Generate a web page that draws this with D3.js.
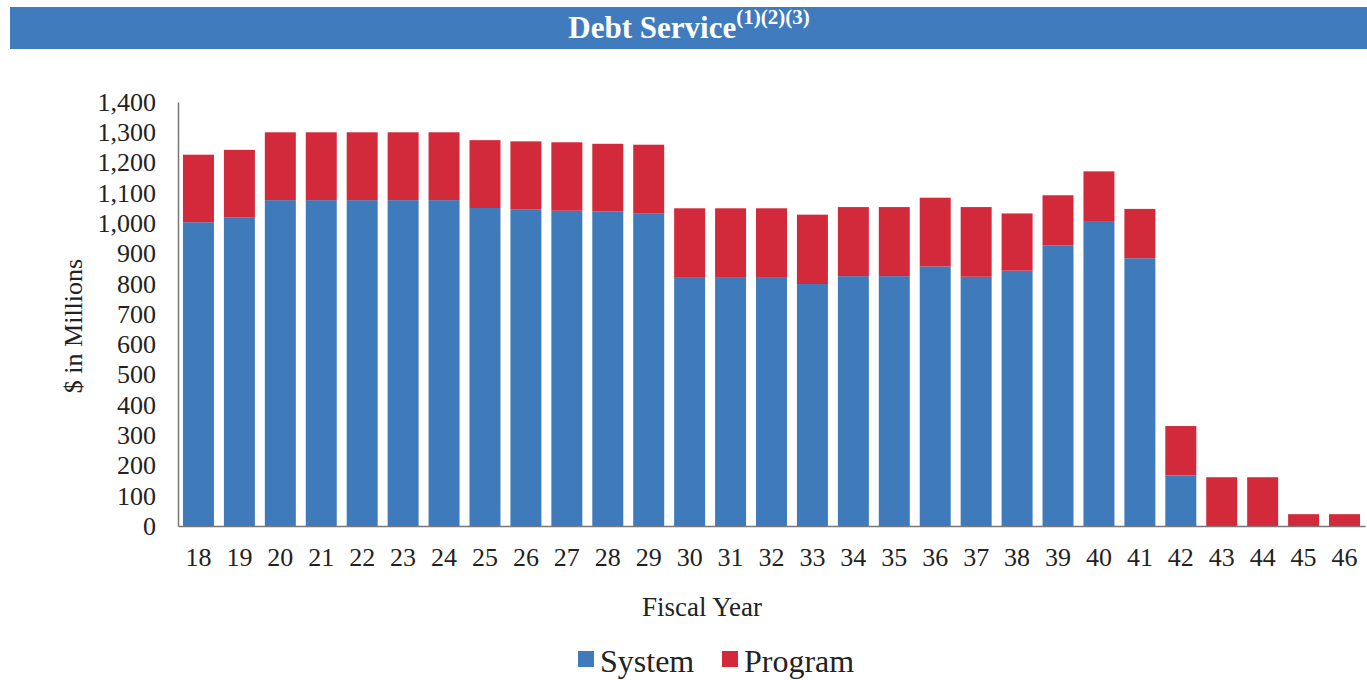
<!DOCTYPE html>
<html>
<head>
<meta charset="utf-8">
<script src="https://cdn.jsdelivr.net/npm/d3@7"></script>
<style>
  html, body { margin: 0; padding: 0; background: #fff; }
  svg { display: block; }
</style>
</head>
<body>
<svg id="chart" width="1367" height="680"></svg>
<script>
const years = ["18","19","20","21","22","23","24","25","26","27","28","29","30","31","32","33","34","35","36","37","38","39","40","41","42","43","44","45","46"];
const systemValues = [1003,1018,1076,1076,1076,1076,1076,1050,1046,1041,1038,1033,822,822,822,799,825,825,857,823,843,927,1007,884,167,0,0,0,0];
const programValues = [223,224,224,224,224,224,224,224,224,226,224,226,227,227,227,229,228,228,227,230,189,165,164,163,163,161,161,39,39];
const yTicks = [0,100,200,300,400,500,600,700,800,900,1000,1100,1200,1300,1400];
const seriesNames = ["System","Program"];
const seriesColors = ["#3f7bba","#d2293b"];

const svg = d3.select("#chart");
const serif = "'Liberation Serif', 'Times New Roman', serif";

// Title band
svg.append("rect").attr("x", 10).attr("y", 7).attr("width", 1357).attr("height", 42).attr("fill", "#3f7bbd");
const title = svg.append("text").attr("x", 689).attr("y", 38).attr("text-anchor", "middle")
  .attr("fill", "#fff").attr("font-family", serif).attr("font-weight", "bold").attr("font-size", 31);
title.append("tspan").text("Debt Service");
title.append("tspan").attr("font-size", 21).attr("dy", -14).text("(1)(2)(3)");

const x0 = 178, x1 = 1365, yBase = 526, yTop = 102;
const x = d3.scaleBand().domain(years).range([x0, x1]).paddingInner(0.243).paddingOuter(0.1215);
const y = d3.scaleLinear().domain([0, 1400]).range([yBase, yTop]);

const data = years.map((yr, i) => ({ year: yr, System: systemValues[i], Program: programValues[i] }));
const stack = d3.stack().keys(seriesNames)(data);

svg.append("g").selectAll("g").data(stack).join("g")
  .attr("fill", (d, i) => seriesColors[i])
  .selectAll("rect").data(d => d).join("rect")
  .attr("x", d => x(d.data.year))
  .attr("width", x.bandwidth())
  .attr("y", d => y(d[1]))
  .attr("height", d => y(d[0]) - y(d[1]));

// Y axis
const yAxis = svg.append("g").attr("transform", `translate(${x0},0)`)
  .call(d3.axisLeft(y).tickValues(yTicks).tickSize(0).tickPadding(22).tickFormat(d3.format(",")));
yAxis.select(".domain").attr("stroke", "#777").attr("stroke-width", 1.5);
yAxis.selectAll("text").attr("font-family", serif).attr("font-size", 26).attr("fill", "#222");

// X axis
const xAxis = svg.append("g").attr("transform", `translate(0,${yBase})`)
  .call(d3.axisBottom(x).tickSize(0).tickPadding(22));
xAxis.select(".domain").attr("stroke", "#777").attr("stroke-width", 1.5);
xAxis.selectAll("text").attr("font-family", serif).attr("font-size", 26).attr("fill", "#222");

// Axis titles
svg.append("text").attr("transform", "translate(82,326) rotate(-90)").attr("text-anchor", "middle")
  .attr("font-family", serif).attr("font-size", 26).attr("fill", "#222").text("$ in Millions");
svg.append("text").attr("x", 702).attr("y", 616).attr("text-anchor", "middle")
  .attr("font-family", serif).attr("font-size", 27).attr("fill", "#222").text("Fiscal Year");

// Legend
const legendX = [578, 722];
seriesNames.forEach((name, i) => {
  svg.append("rect").attr("x", legendX[i]).attr("y", 651).attr("width", 16).attr("height", 16).attr("fill", seriesColors[i]);
  svg.append("text").attr("x", legendX[i] + 22).attr("y", 672).attr("font-family", serif)
    .attr("font-size", 32).attr("fill", "#222").text(name);
});
</script>
</body>
</html>
